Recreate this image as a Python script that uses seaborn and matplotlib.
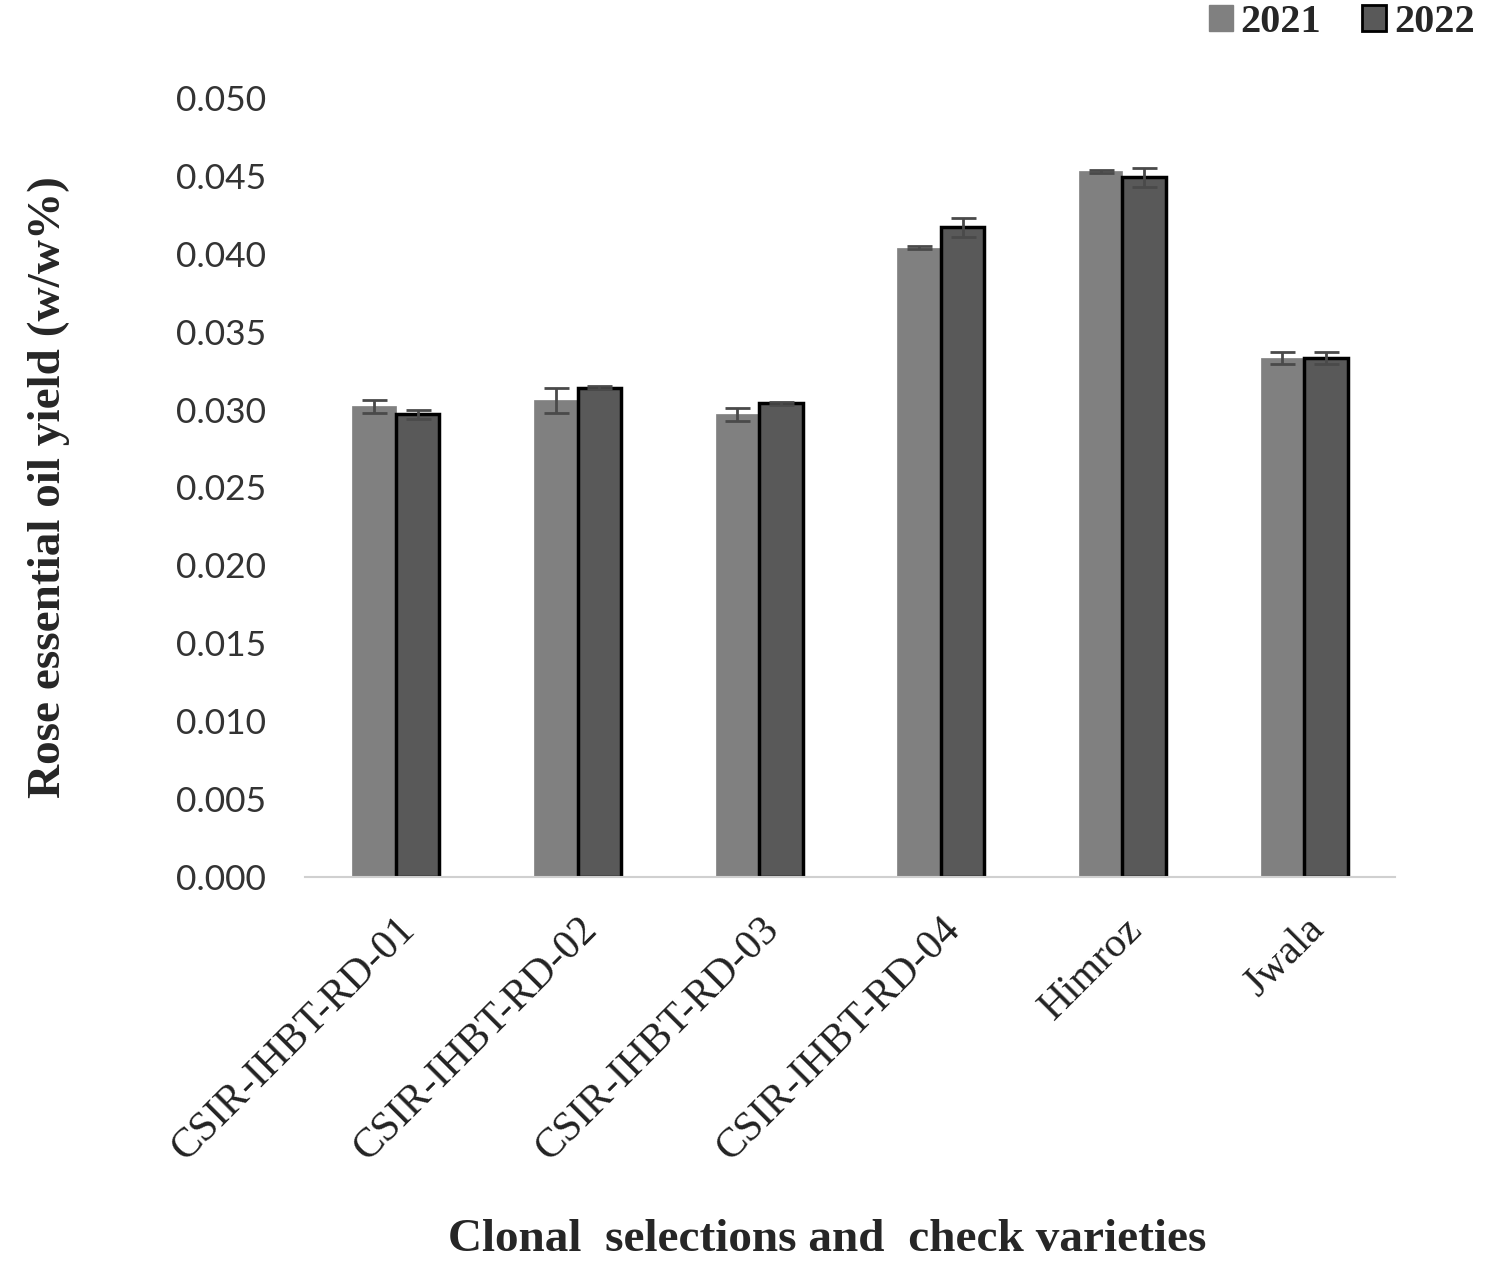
import matplotlib
matplotlib.use("Agg")
import matplotlib.pyplot as plt
from matplotlib.patches import Patch
import seaborn as sns
import pandas as pd

# values
varieties = ["CSIR-IHBT-RD-01", "CSIR-IHBT-RD-02", "CSIR-IHBT-RD-03",
             "CSIR-IHBT-RD-04", "Himroz", "Jwala"]
yield_2021 = [0.0302, 0.0306, 0.0297, 0.0404, 0.0453, 0.0333]
yield_2022 = [0.0297, 0.0314, 0.0304, 0.0417, 0.0449, 0.0333]
err_2021 = [0.0004, 0.0008, 0.0004, 0.0001, 0.0001, 0.0004]
err_2022 = [0.0003, 0.0001, 0.0001, 0.0006, 0.0006, 0.0004]
years = ["2021", "2022"]
y_ticks = [0.000, 0.005, 0.010, 0.015, 0.020, 0.025, 0.030, 0.035, 0.040, 0.045, 0.050]

df = pd.DataFrame({
    "variety": varieties * 2,
    "year": [years[0]] * len(varieties) + [years[1]] * len(varieties),
    "value": yield_2021 + yield_2022,
    "err": err_2021 + err_2022,
})

sns.set_style("white")
serif = "Liberation Serif"

fig = plt.figure(figsize=(14.99, 12.76), dpi=100)
ax = fig.add_axes([0.2035, 0.3127, 0.7271, 0.6105])

colors = {"2021": "#808080", "2022": "#595959"}
sns.barplot(data=df, x="variety", y="value", hue="year", order=varieties,
            hue_order=years, palette=colors, width=0.48, errorbar=None,
            legend=False, ax=ax)

# style bars and add error bars
n = len(varieties)
for i, patch in enumerate(ax.patches[:2 * n]):
    if i < n:
        patch.set_edgecolor("#808080")
        patch.set_linewidth(0.5)
    else:
        patch.set_edgecolor("black")
        patch.set_linewidth(2.5)
    cx = patch.get_x() + patch.get_width() / 2
    ax.errorbar(cx, df["value"].iloc[i], yerr=df["err"].iloc[i], fmt="none",
                ecolor="#4a4a4a", elinewidth=2, capsize=9, capthick=2, zorder=3)

ax.set_xlim(-0.5, n - 0.5)
ax.set_ylim(0, 0.05)
ax.set_yticks(y_ticks)
ax.set_yticklabels([f"{t:.3f}" for t in y_ticks], fontsize=25.5, family="Lato",
                   color="#333333")
ax.tick_params(axis="y", length=0, pad=28)
ax.tick_params(axis="x", length=0, pad=24)
ax.set_xticks(range(n))
ax.set_xticklabels(varieties, rotation=45, ha="right", rotation_mode="anchor",
                   fontsize=30, family=serif, color="#222222")

for side in ["top", "right", "left"]:
    ax.spines[side].set_visible(False)
ax.spines["bottom"].set_color("#d0d0d0")
ax.spines["bottom"].set_linewidth(1.5)

ax.set_ylabel("Rose essential oil yield (w/w%)", fontsize=34, fontweight="bold",
              family=serif, labelpad=0)
ax.yaxis.set_label_coords(-0.216, 0.5)
ax.set_xlabel("")
fig.text(0.552, 0.012, "Clonal  selections and  check varieties", fontsize=34,
         fontweight="bold", family=serif, ha="center", va="bottom")

handles = [Patch(facecolor="#808080", edgecolor="#808080"),
           Patch(facecolor="#595959", edgecolor="black", linewidth=2)]
fig.legend(handles, years, loc="upper right", bbox_to_anchor=(1.008, 1.025),
           ncol=2, frameon=False, prop={"family": serif, "weight": "bold", "size": 29},
           handlelength=0.6, handleheight=0.6, handletextpad=0.2, columnspacing=1.0)

fig.savefig("out.png", dpi=100)
